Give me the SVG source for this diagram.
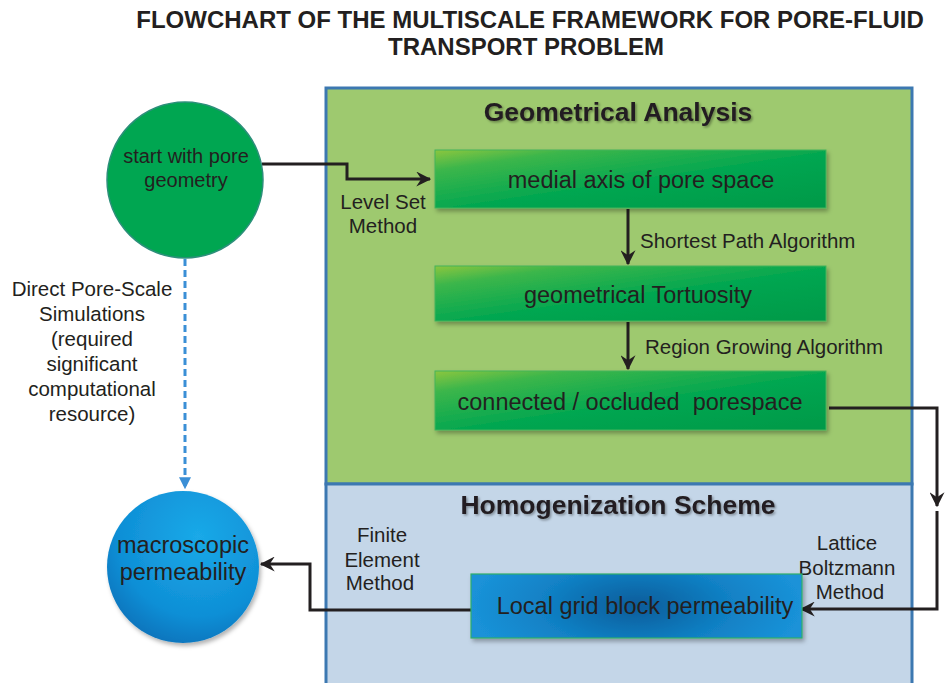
<svg xmlns="http://www.w3.org/2000/svg" width="945" height="683" viewBox="0 0 945 683">
<style>
text{font-family:"Liberation Sans",Arial,sans-serif;fill:#231f20}
.title{font-size:24px;font-weight:bold;text-anchor:middle}
.head{font-size:26.5px;font-weight:bold;text-anchor:middle}
.box{font-size:23.5px;text-anchor:middle}
.lbl{font-size:20.5px}
.mid{text-anchor:middle}
.conn{fill:none;stroke:#231f20;stroke-width:3;stroke-linejoin:miter}
.gbox{fill:url(#gGreen);stroke:#45b35a;stroke-width:1;filter:url(#sh)}
</style>
<defs>
<linearGradient id="gGreen" x1="0" y1="0" x2="1" y2="1">
<stop offset="0" stop-color="#8cc63f"/>
<stop offset="0.18" stop-color="#3cb64b"/>
<stop offset="0.55" stop-color="#00a651"/>
<stop offset="1" stop-color="#009948"/>
</linearGradient>
<radialGradient id="gBlueBox" cx="0.5" cy="0.5" r="0.5" gradientTransform="translate(0.5,0.5) scale(1,2.2) translate(-0.5,-0.5)">
<stop offset="0" stop-color="#0a5c9a"/>
<stop offset="0.55" stop-color="#1180c4"/>
<stop offset="1" stop-color="#1a92d8"/>
</radialGradient>
<radialGradient id="gCircle" cx="0.6" cy="0.3" r="0.75">
<stop offset="0" stop-color="#1aa9e8"/>
<stop offset="0.7" stop-color="#0f8fd6"/>
<stop offset="1" stop-color="#0a72ba"/>
</radialGradient>
<filter id="sh" x="-5%" y="-10%" width="115%" height="130%">
<feDropShadow dx="2" dy="3" stdDeviation="2" flood-color="#000" flood-opacity="0.3"/>
</filter>
<filter id="tsh" x="-5%" y="-20%" width="110%" height="150%">
<feDropShadow dx="1.5" dy="1.5" stdDeviation="1" flood-color="#000" flood-opacity="0.35"/>
</filter>
<marker id="arr" viewBox="0 0 12 12" refX="11" refY="6" markerWidth="5" markerHeight="5" orient="auto" markerUnits="strokeWidth">
<path d="M0,0 L12,6 L0,12 L4,6 z" fill="#231f20"/>
</marker>
<marker id="arrB" viewBox="0 0 10 10" refX="9" refY="5" markerWidth="4" markerHeight="4" orient="auto" markerUnits="strokeWidth">
<path d="M0,0 L10,5 L0,10 z" fill="#3b8fd6"/>
</marker>
</defs>
<rect width="945" height="683" fill="#ffffff"/>

<g id="title">
<text class="title" x="530" y="28">FLOWCHART OF THE MULTISCALE FRAMEWORK FOR PORE-FLUID</text>
<text class="title" x="526" y="55">TRANSPORT PROBLEM</text>
</g>

<g id="panel-geometrical">
<rect x="326" y="88" width="586" height="396" fill="#9ec96f" stroke="#3c78b1" stroke-width="3"/>
<text class="head" x="618" y="121" filter="url(#tsh)">Geometrical Analysis</text>
</g>
<g id="panel-homogenization">
<rect x="326" y="484" width="586" height="201" fill="#c4d6e8" stroke="#3c78b1" stroke-width="3"/>
<text class="head" x="618" y="514" filter="url(#tsh)">Homogenization Scheme</text>
</g>

<g id="connectors">
<polyline class="conn" points="262,164 347,164 347,179 430,179" marker-end="url(#arr)"/>
<line class="conn" x1="628" y1="209" x2="628" y2="264" marker-end="url(#arr)"/>
<line class="conn" x1="628" y1="322" x2="628" y2="369" marker-end="url(#arr)"/>
<polyline class="conn" points="829,408 937,408 937,506" marker-end="url(#arr)"/>
<polyline class="conn" points="937,511 937,609 801,609" marker-end="url(#arr)"/>
<polyline class="conn" points="474,610 310,610 310,564 261,564" marker-end="url(#arr)"/>
<line x1="185" y1="259" x2="185" y2="488" stroke="#3b8fd6" stroke-width="3" stroke-dasharray="7,4" marker-end="url(#arrB)"/>
<text class="lbl mid" x="383" y="209">Level Set</text>
<text class="lbl mid" x="383" y="233">Method</text>
<text class="lbl" x="640" y="248">Shortest Path Algorithm</text>
<text class="lbl" x="645" y="354">Region Growing Algorithm</text>
<text class="lbl mid" x="382" y="542">Finite</text>
<text class="lbl mid" x="382" y="567">Element</text>
<text class="lbl mid" x="380" y="590">Method</text>
<text class="lbl mid" x="847" y="550">Lattice</text>
<text class="lbl mid" x="847" y="575">Boltzmann</text>
<text class="lbl mid" x="850" y="599">Method</text>
<text class="lbl mid" x="92" y="296">Direct Pore-Scale</text>
<text class="lbl mid" x="92" y="321">Simulations</text>
<text class="lbl mid" x="92" y="346">(required</text>
<text class="lbl mid" x="92" y="371">significant</text>
<text class="lbl mid" x="92" y="396">computational</text>
<text class="lbl mid" x="92" y="421">resource)</text>
</g>

<g id="start">
<circle cx="185" cy="180" r="78" fill="#00a651" stroke="#2c8f7a" stroke-width="1.5"/>
<text class="mid" x="186" y="163" style="font-size:20px">start with pore</text>
<text class="mid" x="186" y="187" style="font-size:20px">geometry</text>
</g>

<g id="medial">
<rect class="gbox" x="435" y="150" width="391" height="58"/>
<text class="box" x="641" y="188">medial axis of pore space</text>
</g>
<g id="tortuosity">
<rect class="gbox" x="435" y="266" width="391" height="55"/>
<text class="box" x="638" y="303">geometrical Tortuosity</text>
</g>
<g id="porespace">
<rect class="gbox" x="435" y="371" width="391" height="59"/>
<text class="box" x="630" y="410" xml:space="preserve">connected / occluded  porespace</text>
</g>

<g id="local">
<rect x="471" y="574" width="331" height="64" fill="url(#gBlueBox)" stroke="#2fae6a" stroke-width="1.2" filter="url(#sh)"/>
<text class="box" x="645" y="614">Local grid block permeability</text>
</g>

<g id="macroscopic">
<circle cx="183" cy="567" r="76" fill="url(#gCircle)" filter="url(#sh)"/>
<text class="mid" x="183" y="553" style="font-size:23.5px">macroscopic</text>
<text class="mid" x="183" y="580" style="font-size:23.5px">permeability</text>
</g>
</svg>
